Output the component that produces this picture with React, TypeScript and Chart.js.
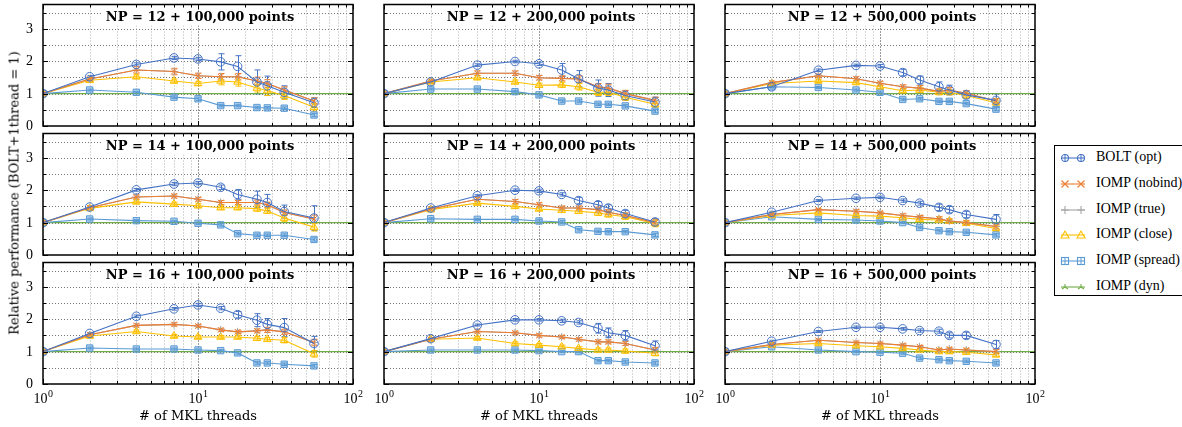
import React, { useEffect, useRef } from "react";
import { Chart, registerables } from "chart.js";
Chart.register(...registerables);

const threads = [1, 2, 4, 7, 10, 14, 18, 24, 28, 36, 56];
const dynX = [1, 100];
const dynValues = [1, 1];

const panelTitles = [
  "NP = 12 + 100,000 points",
  "NP = 12 + 200,000 points",
  "NP = 12 + 500,000 points",
  "NP = 14 + 100,000 points",
  "NP = 14 + 200,000 points",
  "NP = 14 + 500,000 points",
  "NP = 16 + 100,000 points",
  "NP = 16 + 200,000 points",
  "NP = 16 + 500,000 points",
];

const seriesLabels = ["BOLT (opt)", "IOMP (nobind)", "IOMP (true)", "IOMP (close)", "IOMP (spread)", "IOMP (dyn)"];

const boltValues = [
  [1, 1.52, 1.9, 2.1, 2.07, 1.98, 1.84, 1.36, 1.24, 1.04, 0.72],
  [1, 1.36, 1.88, 1.99, 1.92, 1.73, 1.46, 1.17, 1.11, 0.94, 0.74],
  [1, 1.21, 1.72, 1.87, 1.85, 1.65, 1.42, 1.21, 1.11, 0.96, 0.79],
  [1, 1.48, 2.01, 2.19, 2.22, 2.09, 1.87, 1.72, 1.62, 1.34, 1.14],
  [1, 1.45, 1.83, 2.0, 1.98, 1.87, 1.68, 1.55, 1.45, 1.28, 1.02],
  [1, 1.32, 1.68, 1.75, 1.78, 1.68, 1.6, 1.47, 1.4, 1.25, 1.1],
  [1, 1.56, 2.09, 2.32, 2.44, 2.34, 2.14, 1.97, 1.84, 1.74, 1.25],
  [1, 1.4, 1.82, 1.98, 1.98, 1.95, 1.9, 1.72, 1.58, 1.5, 1.18],
  [1, 1.32, 1.62, 1.75, 1.75, 1.7, 1.65, 1.63, 1.5, 1.5, 1.22],
];
const boltErrors = [
  [0, 0.04, 0.05, 0.05, 0.05, 0.25, 0.33, 0.37, 0.3, 0.2, 0.15],
  [0, 0.03, 0.04, 0.04, 0.05, 0.2, 0.25, 0.25, 0.2, 0.15, 0.15],
  [0, 0.03, 0.04, 0.04, 0.05, 0.1, 0.12, 0.15, 0.15, 0.12, 0.2],
  [0, 0.03, 0.04, 0.05, 0.05, 0.07, 0.15, 0.25, 0.25, 0.2, 0.38],
  [0, 0.03, 0.03, 0.04, 0.05, 0.05, 0.1, 0.1, 0.1, 0.1, 0.1],
  [0, 0.03, 0.03, 0.04, 0.04, 0.05, 0.06, 0.1, 0.1, 0.1, 0.15],
  [0, 0.03, 0.04, 0.04, 0.05, 0.05, 0.1, 0.2, 0.18, 0.28, 0.22],
  [0, 0.03, 0.03, 0.04, 0.04, 0.05, 0.05, 0.15, 0.15, 0.15, 0.15],
  [0, 0.03, 0.03, 0.04, 0.04, 0.04, 0.05, 0.06, 0.08, 0.1, 0.12],
];

const nobindValues = [
  [1, 1.45, 1.73, 1.68, 1.55, 1.52, 1.52, 1.39, 1.31, 1.11, 0.77],
  [1, 1.39, 1.63, 1.63, 1.49, 1.47, 1.45, 1.21, 1.17, 1.0, 0.79],
  [1, 1.34, 1.55, 1.46, 1.32, 1.21, 1.17, 1.07, 1.11, 1.01, 0.77],
  [1, 1.46, 1.79, 1.82, 1.72, 1.62, 1.62, 1.62, 1.55, 1.31, 1.11],
  [1, 1.42, 1.72, 1.65, 1.55, 1.45, 1.45, 1.4, 1.32, 1.22, 1.0],
  [1, 1.25, 1.4, 1.35, 1.3, 1.22, 1.17, 1.12, 1.05, 1.0, 0.88],
  [1, 1.52, 1.81, 1.84, 1.79, 1.67, 1.61, 1.64, 1.67, 1.61, 1.28],
  [1, 1.38, 1.62, 1.58, 1.5, 1.45, 1.38, 1.3, 1.3, 1.25, 1.05],
  [1, 1.22, 1.35, 1.28, 1.25, 1.2, 1.15, 1.05, 1.08, 1.05, 1.0],
];
const nobindErrors = [
  [0, 0.05, 0.1, 0.1, 0.08, 0.1, 0.1, 0.12, 0.12, 0.1, 0.1],
  [0, 0.05, 0.07, 0.07, 0.07, 0.08, 0.1, 0.1, 0.12, 0.1, 0.1],
  [0, 0.04, 0.05, 0.06, 0.06, 0.06, 0.08, 0.08, 0.08, 0.08, 0.08],
  [0, 0.04, 0.06, 0.06, 0.06, 0.06, 0.06, 0.08, 0.08, 0.08, 0.12],
  [0, 0.04, 0.06, 0.06, 0.06, 0.06, 0.06, 0.08, 0.08, 0.08, 0.1],
  [0, 0.04, 0.04, 0.05, 0.05, 0.05, 0.05, 0.06, 0.06, 0.06, 0.08],
  [0, 0.04, 0.05, 0.05, 0.05, 0.05, 0.05, 0.06, 0.08, 0.08, 0.1],
  [0, 0.04, 0.05, 0.05, 0.05, 0.05, 0.05, 0.06, 0.06, 0.06, 0.08],
  [0, 0.04, 0.04, 0.04, 0.04, 0.04, 0.04, 0.05, 0.05, 0.05, 0.06],
];

const trueValues = [
  [1, 1.45, 1.73, 1.68, 1.55, 1.52, 1.52, 1.39, 1.31, 1.11, 0.77],
  [1, 1.39, 1.63, 1.63, 1.49, 1.47, 1.45, 1.21, 1.17, 1.0, 0.79],
  [1, 1.34, 1.55, 1.46, 1.32, 1.21, 1.17, 1.07, 1.11, 1.01, 0.77],
  [1, 1.46, 1.79, 1.82, 1.72, 1.62, 1.62, 1.62, 1.55, 1.31, 1.11],
  [1, 1.42, 1.72, 1.65, 1.55, 1.45, 1.45, 1.4, 1.32, 1.22, 1.0],
  [1, 1.25, 1.4, 1.35, 1.3, 1.22, 1.17, 1.12, 1.05, 1.0, 0.88],
  [1, 1.52, 1.81, 1.84, 1.79, 1.67, 1.61, 1.64, 1.67, 1.61, 1.28],
  [1, 1.38, 1.62, 1.58, 1.5, 1.45, 1.38, 1.3, 1.3, 1.25, 1.05],
  [1, 1.22, 1.35, 1.28, 1.25, 1.2, 1.15, 1.05, 1.08, 1.05, 1.0],
];

const closeValues = [
  [1, 1.41, 1.52, 1.39, 1.31, 1.39, 1.36, 1.17, 1.09, 0.94, 0.58],
  [1, 1.36, 1.49, 1.36, 1.26, 1.27, 1.21, 1.04, 1.04, 0.89, 0.67],
  [1, 1.31, 1.39, 1.34, 1.21, 1.09, 1.11, 1.04, 1.04, 0.94, 0.72],
  [1, 1.44, 1.64, 1.57, 1.52, 1.46, 1.46, 1.43, 1.36, 1.14, 0.86],
  [1, 1.4, 1.6, 1.5, 1.42, 1.38, 1.35, 1.3, 1.25, 1.18, 0.97],
  [1, 1.22, 1.3, 1.22, 1.2, 1.15, 1.1, 1.08, 1.05, 0.98, 0.82],
  [1, 1.48, 1.62, 1.48, 1.45, 1.45, 1.45, 1.41, 1.38, 1.35, 0.93],
  [1, 1.38, 1.42, 1.25, 1.2, 1.15, 1.1, 1.05, 1.05, 1.02, 0.95],
  [1, 1.2, 1.25, 1.18, 1.15, 1.1, 1.05, 1.0, 1.0, 0.98, 0.9],
];
const closeErrors = [
  [0, 0.05, 0.06, 0.06, 0.06, 0.12, 0.13, 0.12, 0.15, 0.12, 0.12],
  [0, 0.05, 0.06, 0.06, 0.06, 0.08, 0.1, 0.1, 0.1, 0.1, 0.1],
  [0, 0.04, 0.05, 0.05, 0.05, 0.06, 0.08, 0.08, 0.08, 0.08, 0.08],
  [0, 0.04, 0.06, 0.06, 0.06, 0.06, 0.06, 0.08, 0.08, 0.1, 0.12],
  [0, 0.04, 0.05, 0.05, 0.05, 0.06, 0.06, 0.08, 0.08, 0.08, 0.1],
  [0, 0.04, 0.04, 0.04, 0.04, 0.05, 0.05, 0.06, 0.06, 0.06, 0.08],
  [0, 0.04, 0.05, 0.05, 0.05, 0.05, 0.05, 0.06, 0.06, 0.08, 0.1],
  [0, 0.04, 0.05, 0.05, 0.05, 0.05, 0.05, 0.06, 0.06, 0.06, 0.08],
  [0, 0.04, 0.04, 0.04, 0.04, 0.04, 0.04, 0.05, 0.05, 0.05, 0.06],
];

const spreadValues = [
  [1, 1.11, 1.04, 0.89, 0.84, 0.63, 0.63, 0.57, 0.56, 0.55, 0.34],
  [1, 1.14, 1.14, 1.06, 0.96, 0.77, 0.77, 0.67, 0.67, 0.62, 0.46],
  [1, 1.21, 1.19, 1.11, 1.04, 0.82, 0.84, 0.76, 0.76, 0.69, 0.52],
  [1, 1.11, 1.06, 1.04, 0.98, 0.93, 0.66, 0.61, 0.61, 0.61, 0.48],
  [1, 1.12, 1.1, 1.1, 1.05, 1.02, 0.78, 0.73, 0.72, 0.72, 0.62],
  [1, 1.18, 1.1, 1.08, 1.05, 1.0, 0.85, 0.75, 0.72, 0.7, 0.62],
  [1, 1.11, 1.08, 1.08, 1.05, 1.03, 0.96, 0.65, 0.65, 0.61, 0.56],
  [1, 1.05, 1.05, 1.05, 1.03, 1.0, 1.0, 0.72, 0.72, 0.68, 0.65],
  [1, 1.15, 1.05, 1.0, 0.98, 0.95, 0.8, 0.75, 0.72, 0.7, 0.65],
];
const spreadErrors = [
  [0, 0.03, 0.03, 0.04, 0.05, 0.04, 0.04, 0.04, 0.04, 0.04, 0.05],
  [0, 0.03, 0.03, 0.04, 0.04, 0.04, 0.04, 0.04, 0.04, 0.04, 0.05],
  [0, 0.03, 0.03, 0.03, 0.04, 0.04, 0.04, 0.04, 0.04, 0.04, 0.05],
  [0, 0.03, 0.03, 0.03, 0.04, 0.04, 0.04, 0.04, 0.04, 0.04, 0.05],
  [0, 0.03, 0.03, 0.03, 0.04, 0.04, 0.04, 0.04, 0.04, 0.04, 0.05],
  [0, 0.03, 0.03, 0.03, 0.03, 0.03, 0.04, 0.04, 0.04, 0.04, 0.04],
  [0, 0.03, 0.03, 0.03, 0.03, 0.03, 0.04, 0.04, 0.04, 0.04, 0.04],
  [0, 0.03, 0.03, 0.03, 0.03, 0.03, 0.04, 0.04, 0.04, 0.04, 0.04],
  [0, 0.03, 0.03, 0.03, 0.03, 0.03, 0.04, 0.04, 0.04, 0.04, 0.04],
];

const yTickLabels = [0, 1, 2, 3];
const yGridValues = [0.5, 1, 1.5, 2, 2.5, 3, 3.5];
const xMajorTicks = [1, 10, 100];
const xMinorTicks = [2, 3, 4, 5, 6, 7, 8, 9, 20, 30, 40, 50, 60, 70, 80, 90];
const xTickExponents = ["0", "1", "2"];
const xAxisTitle = "# of MKL threads";
const yAxisTitle = "Relative performance (BOLT+1thread = 1)";

const COLORS = {
  bolt: "#4472C4",
  nobind: "#ED7D31",
  true: "#A5A5A5",
  close: "#FFC000",
  spread: "#5B9BD5",
  dyn: "#70AD47",
};

const SERIF_WIDE = "'DejaVu Serif', 'Liberation Serif', serif";
const SERIF_TIMES = "'Liberation Serif', 'DejaVu Serif', serif";

const COL_LEFT = [43, 384, 725];
const ROW_TOP = [3, 132, 261];
const PLOT_W = 310;
const PLOT_H = 123;
const PAD = { left: 40, top: 4, right: 16, bottom: 44 };

function makePlugin(title: string, showY: boolean, showX: boolean) {
  return {
    id: "frameAndGrid",
    beforeDatasetsDraw(chart: any) {
      const { ctx, chartArea: a, scales } = chart;
      const x = scales.x, y = scales.y;
      ctx.save();
      ctx.lineWidth = 0.8;
      ctx.setLineDash([1, 2]);
      ctx.strokeStyle = "#555";
      for (const v of yGridValues) {
        const py = Math.round(y.getPixelForValue(v)) + 0.5;
        ctx.beginPath();
        ctx.moveTo(a.left, py);
        ctx.lineTo(a.right, py);
        ctx.stroke();
      }
      ctx.strokeStyle = "#999";
      for (const v of xMinorTicks) {
        const px = Math.round(x.getPixelForValue(v)) + 0.5;
        ctx.beginPath();
        ctx.moveTo(px, a.top);
        ctx.lineTo(px, a.bottom);
        ctx.stroke();
      }
      ctx.strokeStyle = "#000";
      for (const v of xMajorTicks.slice(1, 2)) {
        const px = Math.round(x.getPixelForValue(v)) + 0.5;
        ctx.beginPath();
        ctx.moveTo(px, a.top);
        ctx.lineTo(px, a.bottom);
        ctx.stroke();
      }
      ctx.setLineDash([]);
      ctx.font = "bold 13px " + SERIF_WIDE;
      const tw = ctx.measureText(title).width;
      const cx = (a.left + a.right) / 2 + 2;
      ctx.fillStyle = "#fff";
      ctx.fillRect(cx - tw / 2 - 4, a.top + 3, tw + 8, 18);
      ctx.fillStyle = "#000";
      ctx.textAlign = "center";
      ctx.textBaseline = "alphabetic";
      ctx.fillText(title, cx, a.top + 16.5);
      chart.data.datasets.forEach((ds: any, i: number) => {
        if (!ds.errors) return;
        const meta = chart.getDatasetMeta(i);
        ctx.strokeStyle = ds.borderColor;
        ctx.lineWidth = 1;
        meta.data.forEach((pt: any, j: number) => {
          const e = ds.errors[j];
          if (!e) return;
          const v = ds.data[j].y;
          const y1 = y.getPixelForValue(v + e);
          const y2 = y.getPixelForValue(v - e);
          const px = Math.round(pt.x) + 0.5;
          ctx.beginPath();
          ctx.moveTo(px, y1);
          ctx.lineTo(px, y2);
          ctx.moveTo(px - 3, y1);
          ctx.lineTo(px + 3, y1);
          ctx.moveTo(px - 3, y2);
          ctx.lineTo(px + 3, y2);
          ctx.stroke();
        });
      });
      ctx.restore();
    },
    afterDraw(chart: any) {
      const { ctx, chartArea: a, scales } = chart;
      const x = scales.x, y = scales.y;
      ctx.save();
      ctx.strokeStyle = "#000";
      ctx.lineWidth = 1;
      ctx.beginPath();
      for (const v of yGridValues.concat([0])) {
        const py = Math.round(y.getPixelForValue(v)) + 0.5;
        const len = Number.isInteger(v) ? 5 : 3;
        ctx.moveTo(a.left, py);
        ctx.lineTo(a.left + len, py);
        ctx.moveTo(a.right, py);
        ctx.lineTo(a.right - len, py);
      }
      for (const v of xMinorTicks) {
        const px = Math.round(x.getPixelForValue(v)) + 0.5;
        ctx.moveTo(px, a.bottom);
        ctx.lineTo(px, a.bottom - 3);
        ctx.moveTo(px, a.top);
        ctx.lineTo(px, a.top + 3);
      }
      for (const v of xMajorTicks) {
        const px = Math.round(x.getPixelForValue(v)) + 0.5;
        ctx.moveTo(px, a.bottom);
        ctx.lineTo(px, a.bottom - 5);
        ctx.moveTo(px, a.top);
        ctx.lineTo(px, a.top + 5);
      }
      ctx.stroke();
      ctx.lineWidth = 1.5;
      ctx.strokeRect(a.left, a.top, a.right - a.left, a.bottom - a.top);
      ctx.fillStyle = "#000";
      if (showY) {
        ctx.font = "14px " + SERIF_TIMES;
        ctx.textAlign = "right";
        ctx.textBaseline = "middle";
        for (const v of yTickLabels) {
          ctx.fillText(String(v), a.left - 10, y.getPixelForValue(v) + 0.5);
        }
      }
      if (showX) {
        ctx.textBaseline = "alphabetic";
        xMajorTicks.forEach((v, k) => {
          const px = x.getPixelForValue(v);
          ctx.font = "14px " + SERIF_TIMES;
          const w1 = ctx.measureText("10").width;
          ctx.font = "10px " + SERIF_TIMES;
          const w2 = ctx.measureText(xTickExponents[k]).width;
          const start = px - (w1 + w2) / 2;
          ctx.textAlign = "left";
          ctx.font = "14px " + SERIF_TIMES;
          ctx.fillText("10", start, a.bottom + 19);
          ctx.font = "10px " + SERIF_TIMES;
          ctx.fillText(xTickExponents[k], start + w1 + 0.5, a.bottom + 13);
        });
        ctx.font = "13px " + SERIF_WIDE;
        ctx.textAlign = "center";
        ctx.fillText(xAxisTitle, (a.left + a.right) / 2, a.bottom + 35.5);
      }
      ctx.restore();
    },
  };
}

function series(label: string, vals: number[], errs: number[] | null, color: string, style: string, fill: string, radius: number) {
  return {
    label,
    data: threads.map((t, j) => ({ x: t, y: vals[j] })),
    errors: errs,
    borderColor: color,
    backgroundColor: fill,
    pointStyle: style,
    pointRadius: radius,
    pointBorderColor: color,
    pointBackgroundColor: fill,
    pointBorderWidth: 1,
    borderWidth: 1.1,
    tension: 0,
  };
}

function LegendIcon({ kind, color }: { kind: string; color: string }) {
  const m = (cx: number) => {
    const cy = 6;
    if (kind === "circle")
      return (
        <g>
          <circle cx={cx} cy={cy} r={3.5} fill="none" stroke={color} strokeWidth={1.1} />
          <line x1={cx} y1={cy - 3.5} x2={cx} y2={cy + 3.5} stroke={color} strokeWidth={1} />
        </g>
      );
    if (kind === "x")
      return (
        <path d={`M${cx - 3.5} ${cy - 3.5} L${cx + 3.5} ${cy + 3.5} M${cx - 3.5} ${cy + 3.5} L${cx + 3.5} ${cy - 3.5}`} stroke={color} strokeWidth={1.1} />
      );
    if (kind === "plus")
      return <path d={`M${cx - 4} ${cy} L${cx + 4} ${cy} M${cx} ${cy - 4} L${cx} ${cy + 4}`} stroke={color} strokeWidth={1.1} />;
    if (kind === "tri")
      return <path d={`M${cx} ${cy - 4} L${cx + 4} ${cy + 3} L${cx - 4} ${cy + 3} Z`} fill="none" stroke={color} strokeWidth={1.1} />;
    if (kind === "square")
      return (
        <g>
          <rect x={cx - 3.5} y={cy - 3.5} width={7} height={7} fill="none" stroke={color} strokeWidth={1.1} />
          <line x1={cx} y1={cy - 3.5} x2={cx} y2={cy + 3.5} stroke={color} strokeWidth={1} />
        </g>
      );
    return <path d={`M${cx} ${cy} L${cx} ${cy - 3} M${cx} ${cy} L${cx - 3} ${cy + 2} M${cx} ${cy} L${cx + 3} ${cy + 2}`} stroke={color} strokeWidth={1.1} />;
  };
  return (
    <svg width={30} height={12} style={{ position: "absolute", left: 4, top: -6 }}>
      <line x1={2} y1={6} x2={26} y2={6} stroke={color} strokeWidth={1.1} />
      {m(6)}
      {m(22)}
    </svg>
  );
}

const legendKinds = ["circle", "x", "plus", "tri", "square", "dyn"];
const legendColors = [COLORS.bolt, COLORS.nobind, COLORS.true, COLORS.close, COLORS.spread, COLORS.dyn];

export default function App() {
  const refs = useRef<(HTMLCanvasElement | null)[]>([]);

  useEffect(() => {
    const charts = panelTitles.map((title, i) => {
      const row = Math.floor(i / 3);
      const col = i % 3;
      const canvas = refs.current[i] as HTMLCanvasElement;
      const datasets: any[] = [
        series(seriesLabels[0], boltValues[i], boltErrors[i], COLORS.bolt, "circle", "rgba(255,255,255,0)", 4.3),
        series(seriesLabels[1], nobindValues[i], nobindErrors[i], COLORS.nobind, "crossRot", COLORS.nobind, 4),
        series(seriesLabels[2], trueValues[i], null, COLORS.true, "cross", COLORS.true, 4),
        series(seriesLabels[3], closeValues[i], closeErrors[i], COLORS.close, "triangle", "rgba(255,192,0,0.25)", 4.5),
        series(seriesLabels[4], spreadValues[i], spreadErrors[i], COLORS.spread, "rect", "rgba(91,155,213,0.45)", 4.5),
        {
          label: seriesLabels[5],
          data: dynX.map((v, j) => ({ x: v, y: dynValues[j] })),
          borderColor: COLORS.dyn,
          backgroundColor: COLORS.dyn,
          pointRadius: 0,
          borderWidth: 1.2,
        },
      ];
      return new Chart(canvas, {
        type: "line",
        data: { datasets },
        options: {
          responsive: false,
          animation: false,
          events: [],
          layout: { padding: PAD },
          scales: {
            x: { type: "logarithmic", min: 1, max: 100, display: false },
            y: { type: "linear", min: 0, max: 3.75, display: false },
          },
          plugins: { legend: { display: false }, tooltip: { enabled: false }, title: { display: false } },
        } as any,
        plugins: [makePlugin(title, col === 0, row === 2)],
      });
    });
    return () => charts.forEach((c) => c.destroy());
  }, []);

  const W = PAD.left + PLOT_W + PAD.right;
  const H = PAD.top + PLOT_H + PAD.bottom;

  return (
    <div style={{ position: "fixed", left: 0, top: 0, width: 1182, height: 427, overflow: "hidden", background: "#fff" }}>
      {panelTitles.map((t, i) => (
        <canvas
          key={t}
          ref={(el) => {
            refs.current[i] = el;
          }}
          width={W}
          height={H}
          style={{
            position: "absolute",
            left: COL_LEFT[i % 3] - PAD.left,
            top: ROW_TOP[Math.floor(i / 3)] - PAD.top,
            width: W,
            height: H,
          }}
        />
      ))}
      <div
        style={{
          position: "absolute",
          left: 14,
          top: 193,
          transform: "translate(-50%, -50%) rotate(-90deg)",
          whiteSpace: "nowrap",
          font: "13px " + SERIF_WIDE,
          color: "#000",
        }}
      >
        {yAxisTitle}
      </div>
      <div
        style={{
          position: "absolute",
          left: 1054,
          top: 145,
          width: 140,
          height: 151,
          border: "1px solid #000",
          background: "#fff",
          boxSizing: "border-box",
        }}
      >
        {seriesLabels.map((lab, k) => (
          <div key={lab} style={{ position: "absolute", left: 0, top: 12 + k * 25.8 }}>
            <LegendIcon kind={legendKinds[k]} color={legendColors[k]} />
            <span
              style={{
                position: "absolute",
                left: 41,
                top: -9,
                whiteSpace: "nowrap",
                font: "14px " + SERIF_TIMES,
                color: "#000",
              }}
            >
              {lab}
            </span>
          </div>
        ))}
      </div>
    </div>
  );
}
